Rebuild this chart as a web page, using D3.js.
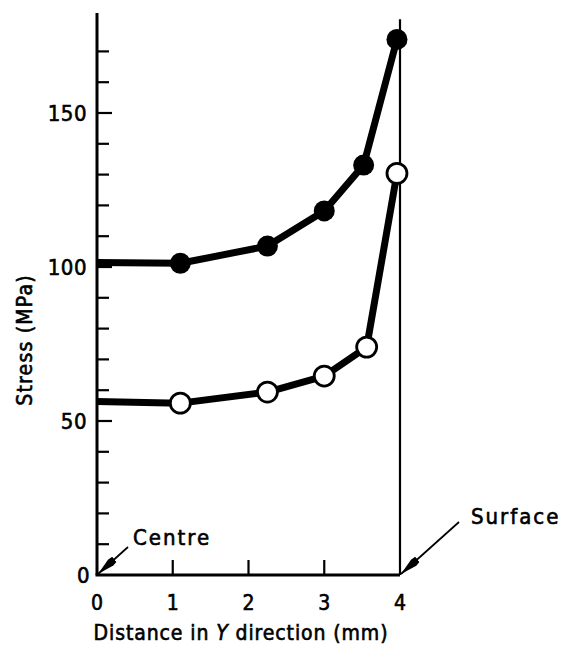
<!DOCTYPE html>
<html><head><meta charset="utf-8">
<script src="https://cdn.jsdelivr.net/npm/d3@7"></script>
<style>
html,body{margin:0;padding:0;background:#fff;}
text{font-family:"DejaVu Sans Condensed","DejaVu Sans",sans-serif;fill:#000;stroke:#000;stroke-width:0.6px;}
</style></head>
<body>
<svg id="chart" width="569" height="650"></svg>
<script>
// Data
const filledX = [0, 1.1, 2.25, 3.0, 3.52, 3.96];
const filledY = [101.5, 101.2, 106.8, 118.2, 133.1, 173.9];
const openX = [0, 1.1, 2.25, 3.0, 3.56, 3.96];
const openY = [56.3, 55.8, 59.4, 64.6, 74.0, 130.4];
const xTicks = [0, 1, 2, 3, 4];
const yTickLabels = [0, 50, 100, 150];
const yMinorTicks = [10, 20, 30, 40, 60, 70, 80, 90, 110, 120, 130, 140, 160, 170];
const xMinorTicks = [1, 2, 3];
const yTop = 182.5;
const surfaceLineTop = 180.4;

const svg = d3.select("#chart");
const x = d3.scaleLinear().domain([0, 4]).range([97, 400]);
const y = d3.scaleLinear().domain([0, 50]).range([575, 421]);

// axes lines
svg.append("line").attr("x1", x(0)).attr("x2", x(0)).attr("y1", y(yTop)).attr("y2", y(0))
  .attr("stroke", "#000").attr("stroke-width", 3);
svg.append("line").attr("x1", x(0) - 1.5).attr("x2", x(4)).attr("y1", y(0)).attr("y2", y(0))
  .attr("stroke", "#000").attr("stroke-width", 3);
// surface vertical line
svg.append("line").attr("x1", x(4)).attr("x2", x(4)).attr("y1", y(surfaceLineTop)).attr("y2", y(0))
  .attr("stroke", "#000").attr("stroke-width", 2.2);

// y ticks (inward)
svg.selectAll(".ymin").data(yMinorTicks).enter().append("line")
  .attr("x1", x(0)).attr("x2", x(0) + 12).attr("y1", d => y(d)).attr("y2", d => y(d))
  .attr("stroke", "#000").attr("stroke-width", 2.2);
svg.selectAll(".ymaj").data(yTickLabels.filter(d => d > 0)).enter().append("line")
  .attr("x1", x(0)).attr("x2", x(0) + 15).attr("y1", d => y(d)).attr("y2", d => y(d))
  .attr("stroke", "#000").attr("stroke-width", 2.2);
svg.selectAll(".ylab").data(yTickLabels).enter().append("text")
  .attr("x", d => d === 0 ? x(0) - 7 : x(0) - 10).attr("y", d => y(d) + 8)
  .attr("text-anchor", "end").attr("font-size", 22).attr("letter-spacing", 0.5)
  .text(d => d);

// x ticks (inward)
svg.selectAll(".xmin").data(xMinorTicks).enter().append("line")
  .attr("x1", d => x(d)).attr("x2", d => x(d)).attr("y1", y(0)).attr("y2", y(0) - 15)
  .attr("stroke", "#000").attr("stroke-width", 2.2);
svg.selectAll(".xlab").data(xTicks).enter().append("text")
  .attr("x", d => x(d)).attr("y", 610)
  .attr("text-anchor", "middle").attr("font-size", 21)
  .text(d => d);

// axis titles
const xt = svg.append("text").attr("x", 241).attr("y", 640).attr("text-anchor", "middle")
  .attr("font-size", 21).attr("letter-spacing", 0.9);
xt.append("tspan").text("Distance in ");
xt.append("tspan").attr("font-style", "italic").text("Y");
xt.append("tspan").text(" direction (mm)");

svg.append("text").attr("transform", "translate(32,340) rotate(-90)").attr("text-anchor", "middle")
  .attr("font-size", 21).attr("letter-spacing", 1.2)
  .text("Stress (MPa)");

// lines
const line = d3.line().x(d => x(d[0])).y(d => y(d[1]));
const filled = filledX.map((d, i) => [d, filledY[i]]);
const open = openX.map((d, i) => [d, openY[i]]);
svg.append("path").attr("d", line(filled)).attr("fill", "none").attr("stroke", "#000")
  .attr("stroke-width", 7).attr("stroke-linejoin", "round");
svg.append("path").attr("d", line(open)).attr("fill", "none").attr("stroke", "#000")
  .attr("stroke-width", 7).attr("stroke-linejoin", "round");

svg.selectAll(".fm").data(filled.slice(1)).enter().append("circle")
  .attr("cx", d => x(d[0])).attr("cy", d => y(d[1])).attr("r", 10.5).attr("fill", "#000");
svg.selectAll(".om").data(open.slice(1)).enter().append("circle")
  .attr("cx", d => x(d[0])).attr("cy", d => y(d[1])).attr("r", 10)
  .attr("fill", "#fff").attr("stroke", "#000").attr("stroke-width", 2.8);

// annotations
const defs = svg.append("defs");
defs.append("marker").attr("id", "ah").attr("viewBox", "0 0 22 9").attr("refX", 22).attr("refY", 4.5)
  .attr("markerWidth", 22).attr("markerHeight", 9).attr("markerUnits", "userSpaceOnUse")
  .attr("orient", "auto").append("path").attr("d", "M0,1.2 L5,0.5 L22,4.5 L5,8.5 L0,7.8 Z").attr("fill", "#000");

svg.append("line").attr("x1", 128).attr("y1", 547).attr("x2", x(0) + 1).attr("y2", y(0) - 1)
  .attr("stroke", "#000").attr("stroke-width", 1.7).attr("marker-end", "url(#ah)");
svg.append("text").attr("x", 133).attr("y", 545).attr("font-size", 22)
  .attr("letter-spacing", 2).text("Centre");

svg.append("line").attr("x1", 459).attr("y1", 522).attr("x2", x(4) + 1).attr("y2", y(0) - 1)
  .attr("stroke", "#000").attr("stroke-width", 1.7).attr("marker-end", "url(#ah)");
svg.append("text").attr("x", 471).attr("y", 524).attr("font-size", 22)
  .attr("letter-spacing", 2).text("Surface");
</script>
</body></html>
